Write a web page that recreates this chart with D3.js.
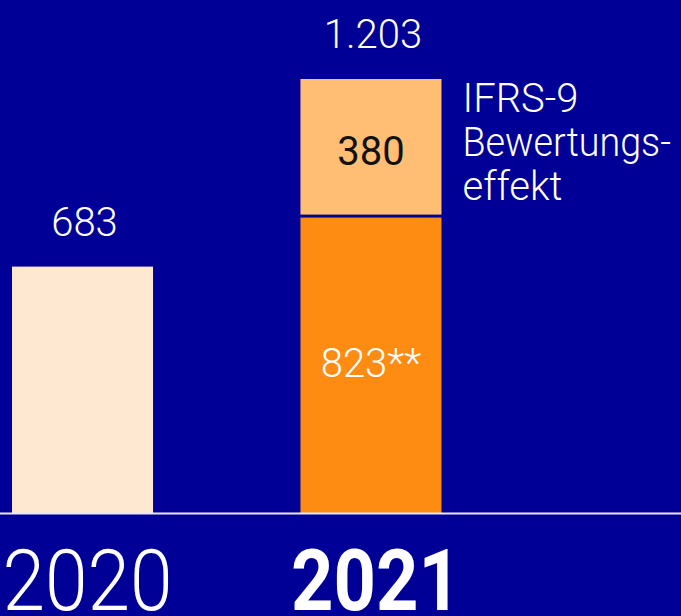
<html>
<head>
  <meta charset="utf-8">
  <title>Ergebnis 2020 / 2021</title>
  <script src="https://d3js.org/d3.v7.min.js"></script>
  <style>
    body { margin:0; background:#000096; }
    svg { display:block; }
  </style>
</head>
<body>
<div id="chart"></div>
<script>

// data
var years = ["2020", "2021"];
var baseValues = [683, 823];
var ifrsValues = [0, 380];
var totalLabels = ["683", "1.203"];
var baseLabels = ["", "823**"];
var ifrsLabels = ["", "380"];
var noteLines = ["IFRS-9", "Bewertungs-", "effekt"];

var W = 681, H = 616;
var baseY = 513;

var svg = d3.select("#chart").append("svg")
    .attr("width", W).attr("height", H);

svg.append("rect").attr("width", W).attr("height", H).attr("fill", "#000096");

var x = d3.scaleBand()
    .domain(years)
    .range([12, 12 + 288.5 + 141])
    .paddingInner(0.511)
    .paddingOuter(0);

var y = d3.scaleLinear()
    .domain([0, 1203])
    .range([baseY, 79]);

var font = "Roboto, 'DejaVu Sans', sans-serif";

// bottom segments
svg.selectAll("rect.base")
    .data(years)
  .enter().append("rect")
    .attr("class", "base")
    .attr("x", function(d) { return x(d); })
    .attr("width", x.bandwidth())
    .attr("y", function(d, i) { return y(baseValues[i]) + (ifrsValues[i] > 0 ? 1.5 : 0); })
    .attr("height", function(d, i) { return baseY - y(baseValues[i]) - (ifrsValues[i] > 0 ? 1.5 : 0); })
    .attr("fill", function(d, i) { return i == 0 ? "#FFE8D1" : "#FF8C12"; });

// IFRS-9 segments
svg.selectAll("rect.ifrs")
    .data(years.filter(function(d, i) { return ifrsValues[i] > 0; }))
  .enter().append("rect")
    .attr("class", "ifrs")
    .attr("x", function(d) { return x(d); })
    .attr("width", x.bandwidth())
    .attr("y", function(d) { var i = years.indexOf(d); return y(baseValues[i] + ifrsValues[i]); })
    .attr("height", function(d) { var i = years.indexOf(d); return y(baseValues[i]) - y(baseValues[i] + ifrsValues[i]) - 1.5; })
    .attr("fill", "#FFBE73");

// baseline
svg.append("line")
    .attr("x1", 0).attr("x2", W)
    .attr("y1", baseY + 0.5).attr("y2", baseY + 0.5)
    .attr("stroke", "#E8E8F4").attr("stroke-width", 2);

// totals above bars
svg.selectAll("text.total")
    .data(years)
  .enter().append("text")
    .attr("class", "total")
    .attr("x", function(d) { return x(d) + x.bandwidth() / 2 + 2; })
    .attr("y", function(d, i) { return y(baseValues[i] + ifrsValues[i]) - 31; })
    .attr("text-anchor", "middle")
    .attr("font-family", font)
    .attr("font-size", 40)
    .attr("font-weight", 300)
    .attr("fill", "#fff")
    .text(function(d, i) { return totalLabels[i]; });

// labels inside segments
svg.selectAll("text.baselab")
    .data(years)
  .enter().append("text")
    .attr("x", function(d) { return x(d) + x.bandwidth() / 2; })
    .attr("y", function(d, i) { return (y(baseValues[i]) + baseY) / 2 + 12; })
    .attr("text-anchor", "middle")
    .attr("font-family", font)
    .attr("font-size", 40)
    .attr("font-weight", 300)
    .attr("fill", "#fff")
    .text(function(d, i) { return baseLabels[i]; });

svg.selectAll("text.ifrslab")
    .data(years)
  .enter().append("text")
    .attr("x", function(d) { return x(d) + x.bandwidth() / 2; })
    .attr("y", function(d, i) { return (y(baseValues[i]) + y(baseValues[i] + ifrsValues[i])) / 2 + 17; })
    .attr("text-anchor", "middle")
    .attr("font-family", font)
    .attr("font-size", 40)
    .attr("font-weight", 400)
    .attr("fill", "#111")
    .text(function(d, i) { return ifrsLabels[i]; });

// note right of stacked bar
var noteX = x("2021") + x.bandwidth() + 21;
svg.selectAll("text.note")
    .data(noteLines)
  .enter().append("text")
    .attr("class", "note")
    .attr("x", noteX)
    .attr("y", function(d, i) { return 112 + i * 44; })
    .attr("font-family", font)
    .attr("font-size", 40)
    .attr("font-weight", 300)
    .attr("fill", "#fff")
    .text(function(d) { return d; })
    .each(function() {
      // squeeze a line if it runs past the right edge
      var room = W - noteX - 10;
      if (this.getComputedTextLength() > room) {
        d3.select(this).attr("textLength", room).attr("lengthAdjust", "spacingAndGlyphs");
      }
    });

// year labels
svg.selectAll("text.year")
    .data(years)
  .enter().append("text")
    .attr("class", "year")
    .attr("x", function(d) { return x(d) + x.bandwidth() / 2 + 5; })
    .attr("y", 610)
    .attr("text-anchor", "middle")
    .attr("font-family", font)
    .attr("font-size", 85)
    .attr("font-weight", function(d, i) { return i == 1 ? 700 : 300; })
    .attr("textLength", 170)
    .attr("lengthAdjust", "spacingAndGlyphs")
    .attr("fill", "#fff")
    .text(function(d) { return d; });

</script>
</body>
</html>
